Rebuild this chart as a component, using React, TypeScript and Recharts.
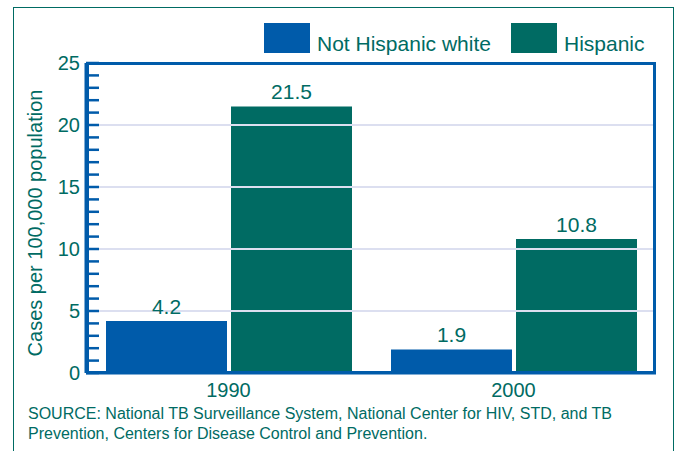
import React from 'react';
import { BarChart, Bar, XAxis, YAxis, ReferenceLine, LabelList } from 'recharts';

const years = ['1990', '2000'];
const notHispanicWhite = [4.2, 1.9];
const hispanic = [21.5, 10.8];
const seriesNames = ['Not Hispanic white', 'Hispanic'];
const yTicks = [0, 1, 2, 3, 4, 5, 6, 7, 8, 9, 10, 11, 12, 13, 14, 15, 16, 17, 18, 19, 20, 21, 22, 23, 24, 25];
const gridValues = [5, 10, 15, 20];
const yLabel = 'Cases per 100,000 population';
const sourceLines = [
  'SOURCE: National TB Surveillance System, National Center for HIV, STD, and TB',
  'Prevention, Centers for Disease Control and Prevention.',
];

const data = years.map((y, i) => ({ year: y, nhw: notHispanicWhite[i], hisp: hispanic[i] }));

const BLUE = '#005BAA';
const TEAL = '#006B63';
const FONT = '"Liberation Sans", Arial, Helvetica, sans-serif';

const YTick = (props: any) => {
  const { y, payload } = props;
  const v = payload.value;
  return (
    <g>
      <line x1={86} x2={99} y1={y} y2={y} stroke={BLUE} strokeWidth={2.5} />
      {v % 5 === 0 && (
        <text x={80} y={y} dy={7} textAnchor="end" fill={TEAL} fontSize={20} fontFamily={FONT}>
          {v}
        </text>
      )}
    </g>
  );
};

export default function App() {
  return (
    <div style={{ position: 'absolute', left: 0, top: 0, width: 679, height: 451, overflow: 'hidden', background: '#fff', fontFamily: FONT }}>
      <div style={{ position: 'absolute', left: 13, top: 7, width: 661, height: 470, border: `1px solid ${TEAL}`, boxSizing: 'border-box' }} />
      <BarChart width={679} height={451} data={data} margin={{ top: 63, right: 23, bottom: 48, left: 0 }} barCategoryGap={20} barGap={4}>
        <XAxis
          dataKey="year"
          axisLine={{ stroke: BLUE, strokeWidth: 3 }}
          tickLine={false}
          height={30}
          tick={{ fill: TEAL, fontSize: 20, fontFamily: FONT }}
          tickMargin={4}
        />
        <YAxis
          width={86}
          domain={[0, 25]}
          ticks={yTicks}
          interval={0}
          axisLine={{ stroke: BLUE, strokeWidth: 3 }}
          tickLine={false}
          tick={<YTick />}
        />
        <Bar dataKey="nhw" name={seriesNames[0]} fill={BLUE} isAnimationActive={false}>
          <LabelList dataKey="nhw" position="top" offset={7} fill={TEAL} fontSize={21} fontFamily={FONT} />
        </Bar>
        <Bar dataKey="hisp" name={seriesNames[1]} fill={TEAL} isAnimationActive={false}>
          <LabelList dataKey="hisp" position="top" offset={7} fill={TEAL} fontSize={21} fontFamily={FONT} />
        </Bar>
        {gridValues.map((v) => (
          <ReferenceLine key={v} y={v} stroke="#dcdff0" strokeWidth={2} />
        ))}
      </BarChart>
      <div style={{ position: 'absolute', left: 86, top: 62, width: 570, height: 312, border: `3px solid ${BLUE}`, boxSizing: 'border-box', pointerEvents: 'none' }} />
      <div
        style={{
          position: 'absolute',
          left: 35,
          top: 223,
          transform: 'translate(-50%, -50%) rotate(-90deg)',
          whiteSpace: 'nowrap',
          color: TEAL,
          fontSize: 20,
        }}
      >
        {yLabel}
      </div>
      {seriesNames.map((name, i) => (
        <div key={name} style={{ position: 'absolute', top: 23, left: i === 0 ? 264 : 511, display: 'flex', alignItems: 'flex-end', whiteSpace: 'nowrap' }}>
          <div style={{ width: 46, height: 30, background: i === 0 ? BLUE : TEAL }} />
          <span style={{ color: TEAL, fontSize: 21, marginLeft: 7, lineHeight: '24px', marginBottom: -3 }}>{name}</span>
        </div>
      ))}
      <div style={{ position: 'absolute', left: 28, top: 404, color: TEAL, fontSize: 16, lineHeight: '20px', whiteSpace: 'nowrap' }}>
        {sourceLines.map((l) => (
          <div key={l}>{l}</div>
        ))}
      </div>
    </div>
  );
}
